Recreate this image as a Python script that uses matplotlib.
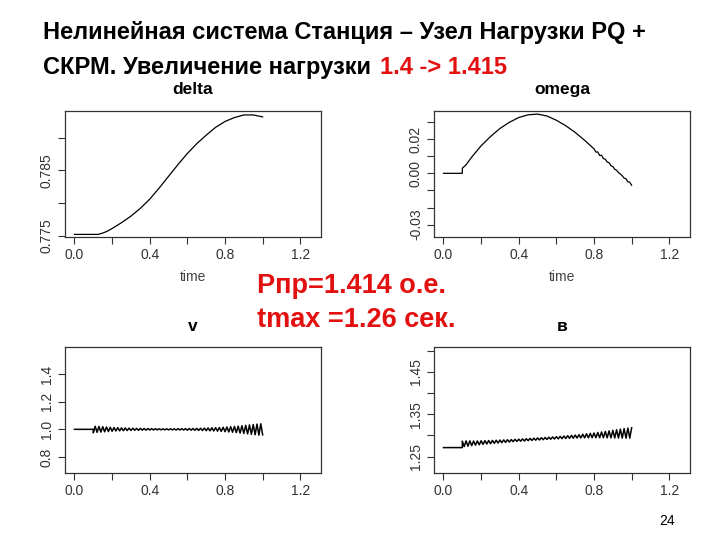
import numpy as np
import matplotlib
matplotlib.use("Agg")
import matplotlib.pyplot as plt

# ---- data ----
delta_t = [0.0, 0.1, 0.125, 0.15, 0.175, 0.2, 0.25, 0.3, 0.35, 0.4, 0.45, 0.5,
           0.55, 0.6, 0.65, 0.7, 0.75, 0.8, 0.85, 0.9, 0.95, 1.0]
delta_v = [0.7752, 0.7752, 0.7752, 0.7754, 0.7757, 0.7761, 0.7770, 0.7780, 0.7792,
           0.7806, 0.7823, 0.7841, 0.7859, 0.7876, 0.7891, 0.7904, 0.7916, 0.7925,
           0.7931, 0.7935, 0.7935, 0.7932]

omega_t = [0.0, 0.1, 0.1001, 0.12, 0.15, 0.2, 0.25, 0.3, 0.35, 0.4, 0.45, 0.5, 0.55,
           0.6, 0.65, 0.7, 0.75, 0.8, 0.81, 0.82, 0.83, 0.84, 0.85, 0.86, 0.87, 0.88,
           0.89, 0.9, 0.91, 0.92, 0.93, 0.94, 0.95, 0.96, 0.97, 0.98, 0.99, 1.0]
omega_v = [0.0, 0.0, 0.003, 0.005, 0.0095, 0.0161, 0.0215, 0.0262, 0.0298, 0.0326,
           0.0342, 0.0346, 0.0335, 0.0310, 0.0278, 0.0239, 0.0193, 0.0143, 0.0124,
           0.0125, 0.0104, 0.0106, 0.0086, 0.0082, 0.0066, 0.0062, 0.0044, 0.0040,
           0.0024, 0.0018, 0.0004, -0.0004, -0.0014, -0.0028, -0.0032, -0.0050,
           -0.0052, -0.0070]

# v and B: flat until 0.1, then sampled every 0.01 s
osc_t = [0.0, 0.1] + [round(0.10 + 0.01 * i, 2) for i in range(91)]
v_v = [1.000, 1.000,
       0.975, 1.022, 0.978, 1.021, 0.980, 1.019, 0.982, 1.017, 0.984, 1.015,
       0.986, 1.013, 0.988, 1.012, 0.989, 1.011, 0.990, 1.010, 0.991, 1.009,
       0.992, 1.008, 0.993, 1.007, 0.993, 1.007, 0.994, 1.006, 0.994, 1.006,
       0.995, 1.005, 0.995, 1.005, 0.996, 1.004, 0.996, 1.004, 0.996, 1.004,
       0.996, 1.004, 0.996, 1.004, 0.995, 1.005, 0.995, 1.005, 0.995, 1.005,
       0.994, 1.006, 0.994, 1.006, 0.993, 1.007, 0.992, 1.008, 0.991, 1.009,
       0.990, 1.010, 0.989, 1.011, 0.988, 1.012, 0.987, 1.013, 0.985, 1.015,
       0.983, 1.017, 0.981, 1.019, 0.979, 1.021, 0.976, 1.023, 0.973, 1.026,
       0.970, 1.029, 0.967, 1.032, 0.964, 1.035, 0.961, 1.038, 0.958, 1.040,
       0.960]
b_v = [1.2713, 1.2713,
       1.2865, 1.2738, 1.2871, 1.2747, 1.2872, 1.2759, 1.2869, 1.2770, 1.2871, 1.2780,
       1.2874, 1.2789, 1.2877, 1.2798, 1.2880, 1.2805, 1.2883, 1.2813, 1.2887, 1.2821,
       1.2891, 1.2829, 1.2895, 1.2836, 1.2899, 1.2844, 1.2902, 1.2852, 1.2907, 1.2859,
       1.2912, 1.2865, 1.2917, 1.2870, 1.2923, 1.2876, 1.2929, 1.2882, 1.2935, 1.2888,
       1.2941, 1.2893, 1.2946, 1.2899, 1.2952, 1.2905, 1.2958, 1.2911, 1.2964, 1.2917,
       1.2970, 1.2920, 1.2978, 1.2924, 1.2986, 1.2928, 1.2994, 1.2932, 1.3002, 1.2935,
       1.3009, 1.2938, 1.3019, 1.2940, 1.3029, 1.2942, 1.3039, 1.2944, 1.3048, 1.2945,
       1.3058, 1.2946, 1.3070, 1.2946, 1.3082, 1.2946, 1.3094, 1.2944, 1.3107, 1.2942,
       1.3121, 1.2940, 1.3135, 1.2938, 1.3149, 1.2936, 1.3161, 1.2935, 1.3173, 1.2937,
       1.3180]

x_ticks = [0.0, 0.2, 0.4, 0.6, 0.8, 1.0, 1.2]
x_labels = ["0.0", "", "0.4", "", "0.8", "", "1.2"]

RED = "#e31010"
FONT = ["Liberation Sans", "DejaVu Sans"]
plt.rcParams["font.family"] = FONT

fig = plt.figure(figsize=(7.2, 5.4), dpi=100)


def panel(rect, t, y, title, ylim, yticks, ylabels, xlabel=None, lw=0.9):
    ax = fig.add_axes(rect)
    ax.plot(t, y, color="black", lw=lw)
    ax.set_xlim(-0.0504, 1.3104)
    ax.set_ylim(*ylim)
    ax.set_xticks(x_ticks)
    ax.set_xticklabels(x_labels)
    ax.set_yticks(yticks)
    ax.set_yticklabels(ylabels, rotation=90, va="center")
    ax.tick_params(direction="out", length=5, width=0.8, color="#333333",
                   labelsize=10, labelcolor="#333333", pad=3)
    for s in ax.spines.values():
        s.set_color("#333333")
        s.set_linewidth(0.9)
    ax.set_title(title, fontsize=12.5, fontweight="bold", pad=12)
    if xlabel:
        ax.set_xlabel(xlabel, fontsize=10, color="#444444", labelpad=6)
    return ax


panel([0.0903, 0.5611, 0.3556, 0.2333], delta_t, delta_v, "delta",
      (0.7748, 0.7941), [0.775, 0.780, 0.785, 0.790], ["0.775", "", "0.785", ""],
      xlabel="time")
panel([0.6028, 0.5611, 0.3556, 0.2333], omega_t, omega_v, "omega",
      (-0.0372, 0.0364), [-0.03, -0.02, -0.01, 0.0, 0.01, 0.02, 0.03],
      ["-0.03", "", "", "0.00", "", "0.02", ""], xlabel="time")
panel([0.0903, 0.1235, 0.3556, 0.2333], osc_t, v_v, "v",
      (0.682, 1.593), [0.8, 1.0, 1.2, 1.4], ["0.8", "1.0", "1.2", "1.4"], lw=1.1)
panel([0.6028, 0.1235, 0.3556, 0.2333], osc_t, b_v, "в",
      (1.2106, 1.508), [1.25, 1.30, 1.35, 1.40, 1.45, 1.50],
      ["1.25", "", "1.35", "", "1.45", ""], lw=1.1)

# slide heading
fig.text(43 / 720, 1 - 39 / 540, "Нелинейная система Станция – Узел Нагрузки PQ +",
         fontsize=17, fontweight="bold", va="baseline", ha="left")
t1 = fig.text(43 / 720, 1 - 74 / 540, "СКРМ. Увеличение нагрузки",
              fontsize=17, fontweight="bold", va="baseline", ha="left")
fig.canvas.draw()
bb = t1.get_window_extent(fig.canvas.get_renderer())
fig.text(bb.x1 / fig.bbox.width + 9 / 720, 1 - 74 / 540, "1.4 -> 1.415",
         fontsize=17, fontweight="bold", color=RED, va="baseline", ha="left")

# red annotation
fig.text(257 / 720, 1 - 286 / 540, "Рпр=1.414 о.е.", fontsize=19.5,
         fontweight="bold", color=RED, va="center", ha="left")
fig.text(257 / 720, 1 - 320 / 540, "tmax =1.26 сек.", fontsize=19.5,
         fontweight="bold", color=RED, va="center", ha="left")

fig.text(667 / 720, 1 - 521 / 540, "24", fontsize=10, va="center", ha="center")

fig.savefig("out.png", dpi=100)
